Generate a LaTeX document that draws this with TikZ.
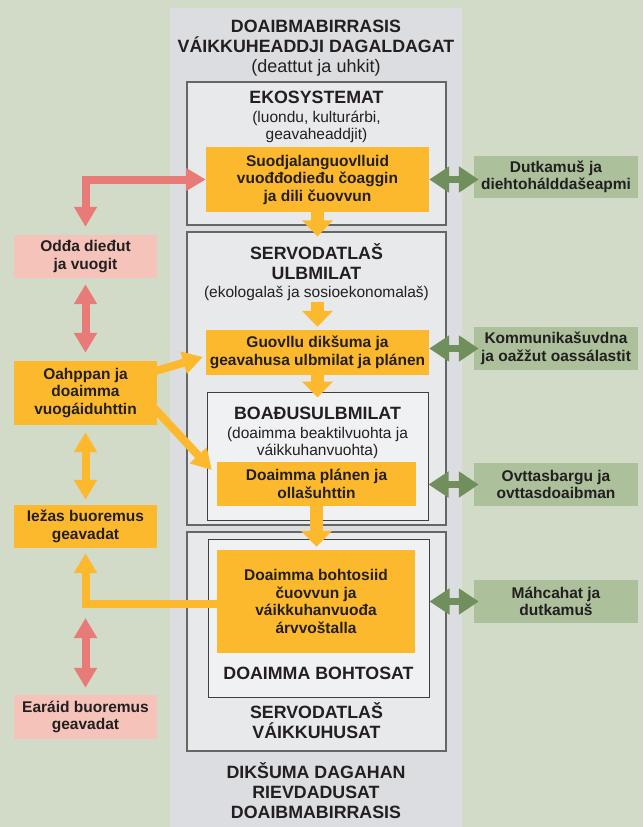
\documentclass[tikz,border=0pt]{standalone}
\usepackage{fontspec}
\setmainfont{Liberation Sans}
\usetikzlibrary{arrows.meta, positioning, calc}
\definecolor{bggreen}{HTML}{D2DBC7}
\definecolor{colgray}{HTML}{DCDDE0}
\definecolor{framegray}{HTML}{E8E9EB}
\definecolor{innergray}{HTML}{F0F1F3}
\definecolor{boxorange}{HTML}{FDB92E}
\definecolor{boxpink}{HTML}{F5C3B9}
\definecolor{arrred}{HTML}{E87B77}
\definecolor{boxgreen}{HTML}{ABC09B}
\definecolor{arrgreen}{HTML}{718E5D}
\definecolor{textdark}{HTML}{231F20}
\newcommand{\bigfont}{\fontsize{17.8}{20}\selectfont\bfseries}
\newcommand{\subfont}{\fontsize{15.5}{17}\selectfont}
\newcommand{\topsubfont}{\fontsize{18}{20}\selectfont}
\newcommand{\boxfont}{\fontsize{15.5}{17.5}\selectfont\bfseries}
\tikzset{outerframe/.style={draw=black!60, line width=1.2pt, fill=framegray, inner sep=0}}
\tikzset{innerframe/.style={draw=black!75, line width=1pt, fill=innergray, inner sep=0}}
\tikzset{orangebox/.style={fill=boxorange, font=\boxfont, align=center, inner sep=0}}
\tikzset{pinkbox/.style={fill=boxpink, font=\boxfont, align=center, inner sep=0, minimum width=143pt}}
\tikzset{greenbox/.style={fill=boxgreen, font=\boxfont, align=center, inner sep=0, minimum width=164pt, minimum height=43pt}}
\tikzset{bigtitle/.style={font=\bigfont, align=center, inner sep=0}}
\tikzset{subtitle/.style={font=\subfont, align=center, inner sep=0}}
\tikzset{bigtip/.tip={Triangle[width=22pt,length=20pt]}}
\tikzset{greentip/.tip={Triangle[width=25pt,length=20pt]}}
\tikzset{flowdown/.style={draw=boxorange, line width=13pt, -{Triangle[width=30pt,length=16pt]}}}
\tikzset{redline/.style={draw=arrred, line width=8pt}}
\tikzset{orangeline/.style={draw=boxorange, line width=8pt}}
\tikzset{greenline/.style={draw=arrgreen, line width=7pt, greentip-greentip}}

\begin{document}
\begin{tikzpicture}[x=1pt, y=-1pt, text=textdark]
\useasboundingbox (0,0) rectangle (643,827);
\fill[bggreen] (0,0) rectangle (643,827);
\node[fill=colgray, minimum width=292pt, minimum height=819pt, inner sep=0] (column) at (316,417.5) {};

% frames of the middle column
\node[outerframe, minimum width=259pt, minimum height=143pt] (ekoframe) at (316.5,153.5) {};
\node[outerframe, minimum width=259pt, minimum height=293pt] (ulbframe) at (316.5,378.5) {};
\node[innerframe, minimum width=221pt, minimum height=128pt] (boahtuframe) at (317.5,456) {};
\node[outerframe, minimum width=259pt, minimum height=219pt] (vaikframe) at (316.5,641.5) {};
\node[innerframe, minimum width=221pt, minimum height=158pt] (bohtframe) at (318.5,618) {};

% headings
\node[bigtitle] (envtitle) at (316,36) {DOAIBMABIRRASIS\\VÁIKKUHEADDJI DAGALDAGAT};
\node[subtitle, font=\topsubfont] (envsub) at (316,68) {(deattut ja uhkit)};
\node[bigtitle] (ekotitle) at (316.5,97) {EKOSYSTEMAT};
\node[subtitle] (ekosub) at (316.5,127) {(luondu, kulturárbi,\\geavaheaddjit)};
\node[bigtitle] (ulbtitle) at (316.5,262) {SERVODATLAŠ\\ULBMILAT};
\node[subtitle] (ulbsub) at (316.5,293.5) {(ekologalaš ja sosioekonomalaš)};
\node[bigtitle] (boahtutitle) at (317.5,413) {BOAĐUSULBMILAT};
\node[subtitle] (boahtusub) at (317.5,443) {(doaimma beaktilvuohta ja\\váikkuhanvuohta)};
\node[bigtitle] (bohttitle) at (318.5,673.5) {DOAIMMA BOHTOSAT};
\node[bigtitle] (vaiktitle) at (316.5,721) {SERVODATLAŠ\\VÁIKKUHUSAT};
\node[bigtitle] (dikstitle) at (316,791) {DIKŠUMA DAGAHAN\\RIEVDADUSAT\\DOAIBMABIRRASIS};

% orange steps
\node[orangebox, minimum width=223pt, minimum height=65pt] (suodjal) at (317.5,179.5) {Suodjalanguovlluid\\vuođđodieđu čoaggin\\ja dili čuovvun};
\node[orangebox, minimum width=223pt, minimum height=45pt] (guovllu) at (317.5,352.5) {Guovllu dikšuma ja\\geavahusa ulbmilat ja plánen};
\node[orangebox, minimum width=199pt, minimum height=44pt] (planen) at (316.5,484) {Doaimma plánen ja\\ollašuhttin};
\node[orangebox, minimum width=198pt, minimum height=103pt] (bohtosiid) at (316,601.5) {Doaimma bohtosiid\\čuovvun ja\\váikkuhanvuođa\\árvvoštalla};

% left side
\node[pinkbox, minimum height=43pt] (odda) at (85.5,256.5) {Odđa dieđut\\ja vuogit};
\node[orangebox, minimum width=143pt, minimum height=64pt] (oahppan) at (85.5,393) {Oahppan ja\\doaimma\\vuogáiduhttin};
\node[orangebox, minimum width=143pt, minimum height=43pt] (iezas) at (85.5,526.5) {Iežas buoremus\\geavadat};
\node[pinkbox, minimum height=44pt] (earaid) at (85.5,717) {Earáid buoremus\\geavadat};
\coordinate (lowgap) at (85.5,618);

% right side
\node[greenbox, minimum height=42pt] (dutkamus) at (556,177) {Dutkamuš ja\\diehtohálddašeapmi};
\node[greenbox] (kommun) at (556,348.5) {Kommunikašuvdna\\ja oažžut oassálastit};
\node[greenbox] (ovttas) at (556,484.5) {Ovttasbargu ja\\ovttasdoaibman};
\node[greenbox] (mahcahat) at (556,601.5) {Máhcahat ja\\dutkamuš};

% flow down the column
\draw[flowdown] (suodjal.south) -- ($(suodjal.south |- ulbframe.north)+(0,5)$);
\draw[flowdown] ($(guovllu.north)+(0,-28)$) -- ($(guovllu.north)+(0,-3)$);
\draw[flowdown] (guovllu.south) -- ($(guovllu.south |- boahtuframe.north)+(0,6)$);
\draw[flowdown] (planen.south) -- ($(planen.south |- bohtosiid.north)+(0,-3)$);

% left loop
\draw[redline, bigtip-bigtip] ($(odda.north)+(0,-8)$) |- (suodjal.west);
\draw[redline, bigtip-bigtip] ($(odda.south)+(0,6)$) -- ($(oahppan.north)+(0,-8)$);
\draw[orangeline, -bigtip] ($(oahppan.east)+(-5,-21)$) -- ($(guovllu.west)+(-3,4.5)$);
\draw[orangeline, -bigtip] ($(oahppan.east)+(-5,13)$) -- ($(planen.west)+(-5,-14)$);
\draw[orangeline, bigtip-bigtip] ($(oahppan.south)+(0,7)$) -- ($(iezas.north)+(0,-5)$);
\draw[orangeline, -bigtip] ($(bohtosiid.west)+(0,2.5)$) -| ($(iezas.south)+(0,5)$);
\draw[redline, bigtip-bigtip] (lowgap) -- ($(earaid.north)+(0,-7)$);

% right links
\draw[greenline] (suodjal.east) -- ($(suodjal.east -| dutkamus.west)+(5,0)$);
\draw[greenline] (kommun.west -| guovllu.east) -- ($(kommun.west)+(5,0)$);
\draw[greenline] (ovttas.west -| boahtuframe.east) -- ($(ovttas.west)+(5,0)$);
\draw[greenline] (mahcahat.west -| bohtframe.east) -- ($(mahcahat.west)+(5,0)$);

\end{tikzpicture}
\end{document}
